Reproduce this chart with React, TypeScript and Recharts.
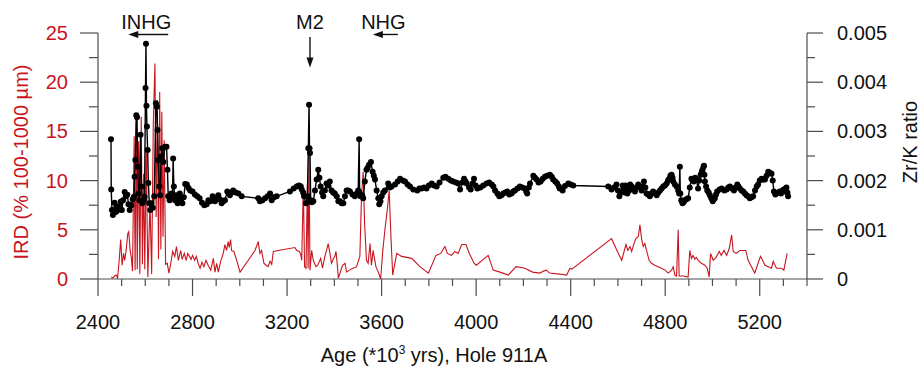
import { ComposedChart, Line, XAxis, YAxis, ReferenceLine } from "recharts";

// Zr/K ratio, Hole 911A: [age (kyr), ratio]
const zrkSeries: [number, number][] = [
  [2455, 0.00284], [2456, 0.00182], [2459, 0.0014], [2463, 0.0013], [2466, 0.00138], [2470, 0.00155],
  [2474, 0.00136], [2477, 0.00137], [2481, 0.00148], [2488, 0.00147], [2492, 0.00141], [2496, 0.00157],
  [2501, 0.0014], [2506, 0.0016], [2513, 0.00177], [2518, 0.00168], [2524, 0.00171], [2529, 0.00152],
  [2534, 0.0014], [2541, 0.0015], [2547, 0.00162], [2552, 0.00167], [2555, 0.00208], [2558, 0.00242],
  [2562, 0.00333], [2565, 0.00329], [2568, 0.00228], [2571, 0.00174], [2575, 0.0016], [2580, 0.00293],
  [2584, 0.00188], [2588, 0.00154], [2594, 0.0016], [2597, 0.00167], [2601, 0.00388], [2603, 0.00478],
  [2605, 0.00352], [2607, 0.0031], [2610, 0.00262], [2613, 0.00195], [2617, 0.00154], [2621, 0.0014],
  [2626, 0.00154], [2632, 0.00145], [2638, 0.00168], [2645, 0.00357], [2649, 0.0035], [2652, 0.00303],
  [2655, 0.00242], [2659, 0.00188], [2663, 0.0017], [2667, 0.00249], [2672, 0.00266], [2677, 0.00238],
  [2683, 0.00269], [2690, 0.00269], [2694, 0.00222], [2697, 0.00168], [2703, 0.0016], [2710, 0.00174],
  [2715, 0.00165], [2718, 0.00245], [2721, 0.00188], [2726, 0.0016], [2731, 0.0017], [2737, 0.00154],
  [2741, 0.00162], [2746, 0.00174], [2751, 0.0016], [2757, 0.00154], [2763, 0.00166], [2769, 0.00193],
  [2776, 0.00192], [2783, 0.00185], [2790, 0.0018], [2800, 0.00178], [2810, 0.00172], [2820, 0.00168],
  [2830, 0.00164], [2840, 0.00155], [2850, 0.0015], [2860, 0.00152], [2867, 0.0016], [2876, 0.00158],
  [2885, 0.00168], [2895, 0.00158], [2902, 0.00164], [2909, 0.0017], [2916, 0.00162], [2923, 0.00154],
  [2930, 0.00158], [2937, 0.0016], [2947, 0.00178], [2958, 0.0017], [2965, 0.00176], [2972, 0.0018],
  [2983, 0.00176], [2994, 0.00174], [3008, 0.00168], [3078, 0.00164], [3085, 0.00158], [3096, 0.0016],
  [3107, 0.00164], [3118, 0.00168], [3128, 0.00174], [3135, 0.0016], [3145, 0.00166], [3156, 0.00168],
  [3212, 0.00178], [3228, 0.00184], [3241, 0.00188], [3250, 0.0019], [3255, 0.00189], [3262, 0.00182],
  [3268, 0.00176], [3272, 0.00168], [3280, 0.00154], [3286, 0.00168], [3290, 0.00266], [3293, 0.00354],
  [3295, 0.00266], [3297, 0.00256], [3300, 0.0016], [3305, 0.00156], [3311, 0.00158], [3318, 0.0018],
  [3325, 0.00202], [3332, 0.00222], [3337, 0.00206], [3342, 0.00188], [3348, 0.00176], [3353, 0.00168],
  [3360, 0.0018], [3367, 0.00194], [3374, 0.0019], [3381, 0.00198], [3388, 0.0018], [3395, 0.00176],
  [3402, 0.00174], [3410, 0.00168], [3417, 0.00158], [3424, 0.00158], [3431, 0.00154], [3438, 0.00154],
  [3445, 0.00168], [3452, 0.0018], [3459, 0.0018], [3466, 0.00178], [3477, 0.00172], [3487, 0.00168],
  [3495, 0.00174], [3501, 0.0018], [3505, 0.00284], [3507, 0.00176], [3511, 0.00168], [3518, 0.0017],
  [3522, 0.00164], [3529, 0.00198], [3536, 0.00222], [3541, 0.00226], [3547, 0.00232], [3555, 0.00238],
  [3562, 0.00218], [3567, 0.0021], [3572, 0.00202], [3579, 0.0018], [3586, 0.00164], [3590, 0.00152],
  [3595, 0.00158], [3600, 0.00168], [3607, 0.00176], [3614, 0.0018], [3628, 0.00194], [3635, 0.00186],
  [3642, 0.00188], [3657, 0.00192], [3668, 0.00198], [3678, 0.00204], [3690, 0.002], [3699, 0.00198],
  [3710, 0.00192], [3720, 0.00188], [3734, 0.00182], [3751, 0.0018], [3760, 0.00184], [3769, 0.00184],
  [3780, 0.00186], [3790, 0.00184], [3800, 0.0019], [3812, 0.00194], [3822, 0.0019], [3833, 0.00188],
  [3845, 0.00196], [3861, 0.00206], [3870, 0.00208], [3882, 0.00204], [3893, 0.002], [3903, 0.00198],
  [3915, 0.00196], [3924, 0.00194], [3932, 0.00182], [3942, 0.00196], [3949, 0.00204], [3955, 0.00198],
  [3960, 0.00194], [3970, 0.00186], [3977, 0.00182], [3985, 0.00194], [3991, 0.00204], [3998, 0.0019],
  [4005, 0.00184], [4018, 0.00186], [4030, 0.0019], [4044, 0.00194], [4055, 0.00196], [4066, 0.00192],
  [4073, 0.00188], [4080, 0.0018], [4090, 0.00174], [4098, 0.00168], [4107, 0.0017], [4115, 0.00174],
  [4124, 0.00176], [4132, 0.00178], [4140, 0.00172], [4150, 0.00174], [4157, 0.00178], [4164, 0.0018],
  [4175, 0.00184], [4185, 0.00188], [4195, 0.00186], [4206, 0.00184], [4212, 0.00178], [4216, 0.00174],
  [4223, 0.00186], [4228, 0.00194], [4242, 0.0021], [4249, 0.00206], [4256, 0.00202], [4264, 0.00196],
  [4273, 0.00198], [4282, 0.00204], [4291, 0.00208], [4300, 0.0021], [4312, 0.00212], [4320, 0.00208],
  [4326, 0.00202], [4335, 0.00198], [4343, 0.00194], [4350, 0.00188], [4354, 0.00184], [4366, 0.0018],
  [4376, 0.00189], [4390, 0.00194], [4400, 0.00192], [4411, 0.0019], [4559, 0.00188], [4573, 0.00182],
  [4583, 0.00186], [4594, 0.00192], [4600, 0.0018], [4606, 0.00168], [4611, 0.00176], [4616, 0.00178],
  [4620, 0.0019], [4624, 0.00184], [4628, 0.00176], [4632, 0.0019], [4636, 0.00182], [4640, 0.00174],
  [4644, 0.00188], [4648, 0.0018], [4652, 0.00192], [4658, 0.00188], [4665, 0.00184], [4672, 0.00178],
  [4679, 0.00186], [4686, 0.00192], [4693, 0.00186], [4700, 0.0018], [4705, 0.00188], [4710, 0.00198],
  [4716, 0.00186], [4721, 0.00174], [4728, 0.00172], [4735, 0.00168], [4742, 0.00174], [4749, 0.00178],
  [4756, 0.00174], [4764, 0.0017], [4771, 0.00176], [4778, 0.0018], [4785, 0.00184], [4792, 0.00188],
  [4799, 0.0019], [4806, 0.00194], [4812, 0.002], [4817, 0.00204], [4822, 0.0021], [4827, 0.00212],
  [4831, 0.00206], [4834, 0.00198], [4841, 0.00192], [4848, 0.00188], [4855, 0.0018], [4859, 0.00174],
  [4862, 0.00228], [4864, 0.00174], [4868, 0.0016], [4873, 0.00154], [4878, 0.00156], [4883, 0.0016],
  [4890, 0.00162], [4897, 0.00164], [4904, 0.00186], [4911, 0.00204], [4916, 0.002], [4921, 0.00198],
  [4927, 0.00206], [4932, 0.00202], [4939, 0.00184], [4944, 0.002], [4950, 0.00212], [4955, 0.00218],
  [4958, 0.00222], [4962, 0.00228], [4964, 0.0023], [4966, 0.00212], [4968, 0.00198], [4973, 0.00188],
  [4978, 0.0018], [4984, 0.00176], [4989, 0.0017], [4995, 0.00164], [5001, 0.00158], [5005, 0.00162],
  [5010, 0.00164], [5015, 0.00172], [5020, 0.00178], [5030, 0.00182], [5039, 0.00184], [5050, 0.0018],
  [5060, 0.00182], [5067, 0.00186], [5074, 0.00188], [5082, 0.00184], [5091, 0.0018], [5098, 0.00186],
  [5105, 0.00192], [5110, 0.00188], [5116, 0.00184], [5123, 0.0018], [5130, 0.00178], [5137, 0.00174],
  [5144, 0.0017], [5151, 0.00168], [5158, 0.00164], [5165, 0.00166], [5172, 0.00168], [5180, 0.0018],
  [5187, 0.00188], [5193, 0.00192], [5200, 0.002], [5208, 0.00204], [5215, 0.00202], [5222, 0.00202],
  [5229, 0.0021], [5236, 0.00218], [5243, 0.00216], [5250, 0.00214], [5255, 0.002], [5260, 0.00178],
  [5266, 0.00172], [5271, 0.00174], [5278, 0.00176], [5285, 0.00178], [5290, 0.00174], [5297, 0.0018],
  [5302, 0.00182], [5306, 0.00178], [5310, 0.00184], [5313, 0.00186], [5317, 0.00176], [5320, 0.00168],
];

// IRD (% 100-1000 µm): [age (kyr), percent]
const irdSeries: [number, number][] = [
  [2456, 0.2], [2463, 0.1], [2470, 0.3], [2477, 0.4], [2483, 0.1], [2490, 2.0], [2496, 4.0], [2502, 1.4],
  [2508, 2.6], [2513, 1.9], [2519, 2.9], [2526, 4.6], [2530, 4.8], [2536, 2.9], [2541, 2.2], [2546, 0.8],
  [2553, 14.5], [2557, 0.9], [2562, 16.0], [2566, 1.0], [2572, 14.0], [2577, 0.5], [2583, 16.5], [2588, 1.5],
  [2593, 10.7], [2598, 1.0], [2604, 13.4], [2611, 0.2], [2620, 7.7], [2627, 0.5], [2634, 15.8], [2641, 21.9],
  [2646, 6.3], [2651, 18.2], [2656, 2.0], [2661, 19.0], [2666, 3.0], [2670, 17.0], [2675, 4.3], [2680, 14.1],
  [2686, 1.5], [2693, 1.6], [2700, 0.6], [2708, 1.6], [2716, 2.8], [2725, 2.3], [2732, 3.3], [2740, 1.9],
  [2750, 2.9], [2756, 2.0], [2765, 2.6], [2773, 1.9], [2780, 2.6], [2787, 2.3], [2794, 2.0], [2800, 2.4],
  [2809, 1.9], [2816, 2.3], [2825, 1.5], [2832, 1.1], [2840, 1.7], [2848, 1.25], [2857, 1.9], [2866, 1.4],
  [2877, 0.9], [2888, 2.1], [2895, 0.7], [2902, 1.6], [2909, 0.7], [2919, 1.8], [2930, 2.6], [2937, 3.5],
  [2944, 2.9], [2951, 3.8], [2955, 3.2], [2961, 4.0], [2965, 2.9], [2975, 2.8], [2987, 1.9], [3001, 0.7],
  [3036, 1.9], [3064, 2.9], [3078, 3.8], [3085, 2.6], [3092, 2.9], [3102, 1.6], [3111, 1.4], [3120, 1.25],
  [3128, 1.8], [3135, 1.5], [3142, 2.8], [3163, 2.9], [3233, 3.2], [3241, 2.9], [3252, 2.8], [3258, 2.5],
  [3262, 1.9], [3269, 9.6], [3274, 1.25], [3280, 1.1], [3286, 9.7], [3289, 1.1], [3293, 12.8], [3297, 0.9],
  [3304, 2.9], [3311, 1.9], [3322, 1.25], [3330, 1.4], [3342, 2.1], [3350, 1.1], [3360, 2.3], [3367, 2.9],
  [3374, 3.6], [3380, 2.8], [3388, 1.6], [3395, 2.0], [3402, 2.3], [3407, 2.8], [3412, 1.6], [3417, 0.1],
  [3424, 0.6], [3435, 1.4], [3445, 1.6], [3452, 0.7], [3470, 1.0], [3494, 1.25], [3508, 2.3], [3515, 8.4],
  [3522, 10.9], [3528, 5.7], [3536, 1.9], [3543, 1.6], [3551, 3.6], [3557, 1.4], [3564, 2.9], [3576, 1.25],
  [3586, 0.7], [3596, 0.0], [3604, 2.6], [3614, 5.0], [3624, 7.0], [3632, 9.0], [3640, 4.0], [3647, 0.4],
  [3664, 2.6], [3685, 2.3], [3727, 2.1], [3762, 1.25], [3798, 0.6], [3830, 2.4], [3850, 2.6], [3868, 3.3],
  [3878, 2.6], [3896, 2.4], [3910, 2.8], [3924, 2.6], [3939, 3.5], [3957, 3.5], [3971, 2.6], [3981, 2.1],
  [3991, 1.6], [4001, 1.4], [4051, 2.4], [4072, 0.9], [4101, 0.7], [4136, 0.4], [4169, 1.25], [4206, 1.1],
  [4239, 0.7], [4270, 0.6], [4285, 0.8], [4298, 0.9], [4310, 0.6], [4354, 0.5], [4383, 0.4], [4397, 1.1],
  [4405, 1.0], [4573, 4.1], [4594, 3.0], [4616, 1.9], [4634, 3.5], [4642, 2.9], [4651, 3.3], [4658, 2.8],
  [4668, 3.6], [4676, 4.1], [4686, 4.3], [4693, 5.5], [4700, 4.1], [4707, 3.3], [4714, 3.6], [4721, 2.9],
  [4732, 1.9], [4742, 1.6], [4756, 1.4], [4770, 1.25], [4784, 1.1], [4799, 0.9], [4813, 0.6], [4827, 0.9],
  [4834, 1.25], [4841, 0.4], [4848, 0.3], [4855, 5.0], [4859, 0.3], [4876, 0.3], [4897, 0.2], [4904, 2.9],
  [4911, 2.1], [4918, 2.4], [4925, 2.0], [4932, 2.2], [4939, 1.9], [4953, 1.6], [4968, 1.4], [4978, 1.1],
  [4986, 0.2], [4992, 2.6], [5003, 1.9], [5015, 2.2], [5029, 2.8], [5037, 2.4], [5049, 2.9], [5060, 2.4],
  [5071, 3.1], [5081, 4.5], [5088, 2.8], [5100, 2.6], [5116, 2.9], [5141, 2.9], [5151, 1.9], [5165, 1.25],
  [5179, 0.6], [5193, 1.6], [5203, 2.3], [5210, 2.0], [5222, 1.4], [5236, 1.25], [5250, 1.1], [5257, 1.8],
  [5271, 1.1], [5292, 1.1], [5302, 0.9], [5316, 2.6],
];

const ageTicks = [
  2400, 2500, 2600, 2700, 2800, 2900, 3000, 3100, 3200, 3300, 3400, 3500, 3600, 3700, 3800, 3900,
  4000, 4100, 4200, 4300, 4400, 4500, 4600, 4700, 4800, 4900, 5000, 5100, 5200, 5300, 5400,
];
const ageLabels = [2400, 2800, 3200, 3600, 4000, 4400, 4800, 5200];
const irdTicks = [0, 2.5, 5, 7.5, 10, 12.5, 15, 17.5, 20, 22.5, 25];
const zrkTicks = [0, 0.0005, 0.001, 0.0015, 0.002, 0.0025, 0.003, 0.0035, 0.004, 0.0045, 0.005];

const FONT = '"Liberation Sans", Arial, Helvetica, sans-serif';
const RED = "#c8141e";
const AXIS = "#4d4d4d";

const irdData = irdSeries.map(([age, ird]) => ({ age, ird }));
const zrkData = zrkSeries.map(([age, zrk]) => ({ age, zrk }));

function AgeTick({ x, y, payload }: any) {
  const major = ageLabels.includes(payload.value);
  return (
    <g>
      <line x1={x} x2={x} y1={y} y2={y + (major ? 17 : 7)} stroke={AXIS} strokeWidth={1.2} />
      {major && (
        <text x={x} y={y + 50} textAnchor="middle" fontSize={20} fontFamily={FONT} fill="#111">
          {payload.value}
        </text>
      )}
    </g>
  );
}

function IrdTick({ x, y, payload }: any) {
  const major = payload.value % 5 === 0;
  return (
    <g>
      <line x1={x - (major ? 18 : 9)} x2={x} y1={y} y2={y} stroke={AXIS} strokeWidth={1.2} />
      {major && (
        <text x={x - 30} y={y + 7} textAnchor="end" fontSize={20} fontFamily={FONT} fill={RED}>
          {payload.value}
        </text>
      )}
    </g>
  );
}

function ZrkTick({ x, y, payload }: any) {
  const major = Math.round(payload.value * 10000) % 10 === 0;
  return (
    <g>
      <line x1={x} x2={x + (major ? 16 : 8)} y1={y} y2={y} stroke={AXIS} strokeWidth={1.2} />
      {major && (
        <text x={x + 30} y={y + 7} textAnchor="start" fontSize={20} fontFamily={FONT} fill="#111">
          {payload.value === 0 ? "0" : payload.value.toFixed(3)}
        </text>
      )}
    </g>
  );
}

const leftArrow = (label: string) => (props: any) => {
  const { x1, y1, x2 } = props;
  return (
    <g>
      <line x1={x1} y1={y1} x2={x2 + 8} y2={y1} stroke="#111" strokeWidth={1.4} />
      <polygon points={`${x2},${y1} ${x2 + 10},${y1 - 3.5} ${x2 + 10},${y1 + 3.5}`} fill="#111" />
      <text x={(x1 + x2) / 2 - 2} y={y1 - 5.5} textAnchor="middle" fontSize={20} fontFamily={FONT} fill="#111">
        {label}
      </text>
    </g>
  );
};

const downArrow = (label: string) => (props: any) => {
  const { x1, y1, y2 } = props;
  return (
    <g>
      <line x1={x1} y1={y1} x2={x1} y2={y2 - 8} stroke="#111" strokeWidth={1.4} />
      <polygon points={`${x1},${y2} ${x1 - 3.5},${y2 - 10} ${x1 + 3.5},${y2 - 10}`} fill="#111" />
      <text x={x1} y={y1 - 8} textAnchor="middle" fontSize={20} fontFamily={FONT} fill="#111">
        {label}
      </text>
    </g>
  );
};

// rotated titles: the baseline runs vertically at cx, glyphs extend to the left
const irdTitle = ({ viewBox }: any) => {
  const cx = viewBox.x + 28;
  const cy = viewBox.y + viewBox.height / 2 + 6;
  return (
    <text
      x={cx}
      y={cy}
      transform={`rotate(-90 ${cx} ${cy})`}
      textAnchor="middle"
      fontSize={20}
      fontFamily={FONT}
      fill={RED}
    >
      IRD (% 100-1000 µm)
    </text>
  );
};

const zrkTitle = ({ viewBox }: any) => {
  const cx = viewBox.x + 110;
  const cy = viewBox.y + viewBox.height / 2 - 14;
  return (
    <text
      x={cx}
      y={cy}
      transform={`rotate(-90 ${cx} ${cy})`}
      textAnchor="middle"
      fontSize={20}
      fontFamily={FONT}
      fill="#111"
    >
      Zr/K ratio
    </text>
  );
};

const ageTitle = ({ viewBox }: any) => (
  <text x={viewBox.x + 336} y={viewBox.y + 83} textAnchor="middle" fontSize={20} fontFamily={FONT} fill="#111">
    Age (*10
    <tspan fontSize={12} dy={-8}>3</tspan>
    <tspan dy={8}> yrs), Hole 911A</tspan>
  </text>
);

export default function App() {
  return (
    <div style={{ width: 922, height: 367, background: "#fff" }}>
      <style>{"body{margin:0}"}</style>
      <ComposedChart width={922} height={367} margin={{ top: 33, right: 0, bottom: 0, left: 0 }}>
        <XAxis
          dataKey="age"
          type="number"
          domain={[2400, 5400]}
          allowDataOverflow
          ticks={ageTicks}
          interval={0}
          tick={<AgeTick />}
          tickLine={false}
          tickSize={0}
          tickMargin={0}
          height={88}
          axisLine={{ stroke: AXIS, strokeWidth: 1.2 }}
          label={{ content: ageTitle }}
        />
        <YAxis
          yAxisId="ird"
          type="number"
          domain={[0, 25]}
          allowDataOverflow
          ticks={irdTicks}
          interval={0}
          tick={<IrdTick />}
          tickLine={false}
          tickSize={0}
          tickMargin={0}
          width={98}
          axisLine={{ stroke: AXIS, strokeWidth: 1.2 }}
          label={{ content: irdTitle }}
        />
        <YAxis
          yAxisId="zrk"
          orientation="right"
          type="number"
          domain={[0, 0.005]}
          allowDataOverflow
          ticks={zrkTicks}
          interval={0}
          tick={<ZrkTick />}
          tickLine={false}
          tickSize={0}
          tickMargin={0}
          width={115}
          axisLine={{ stroke: AXIS, strokeWidth: 1.2 }}
          label={{ content: zrkTitle }}
        />
        <Line
          yAxisId="ird"
          data={irdData}
          dataKey="ird"
          type="linear"
          stroke={RED}
          strokeWidth={1.1}
          dot={false}
          isAnimationActive={false}
        />
        <Line
          yAxisId="zrk"
          data={zrkData}
          dataKey="zrk"
          type="linear"
          stroke="#000"
          strokeWidth={1.4}
          dot={{ r: 3, fill: "#000", stroke: "#000", strokeWidth: 0 }}
          isAnimationActive={false}
        />
        <ReferenceLine
          yAxisId="ird"
          segment={[{ x: 2697, y: 24.85 }, { x: 2528, y: 24.85 }]}
          ifOverflow="visible"
          shape={leftArrow("INHG")}
        />
        <ReferenceLine
          yAxisId="ird"
          segment={[{ x: 3297, y: 24.6 }, { x: 3297, y: 21.5 }]}
          ifOverflow="visible"
          shape={downArrow("M2")}
        />
        <ReferenceLine
          yAxisId="ird"
          segment={[{ x: 3669, y: 24.85 }, { x: 3563, y: 24.85 }]}
          ifOverflow="visible"
          shape={leftArrow("NHG")}
        />
      </ComposedChart>
    </div>
  );
}
